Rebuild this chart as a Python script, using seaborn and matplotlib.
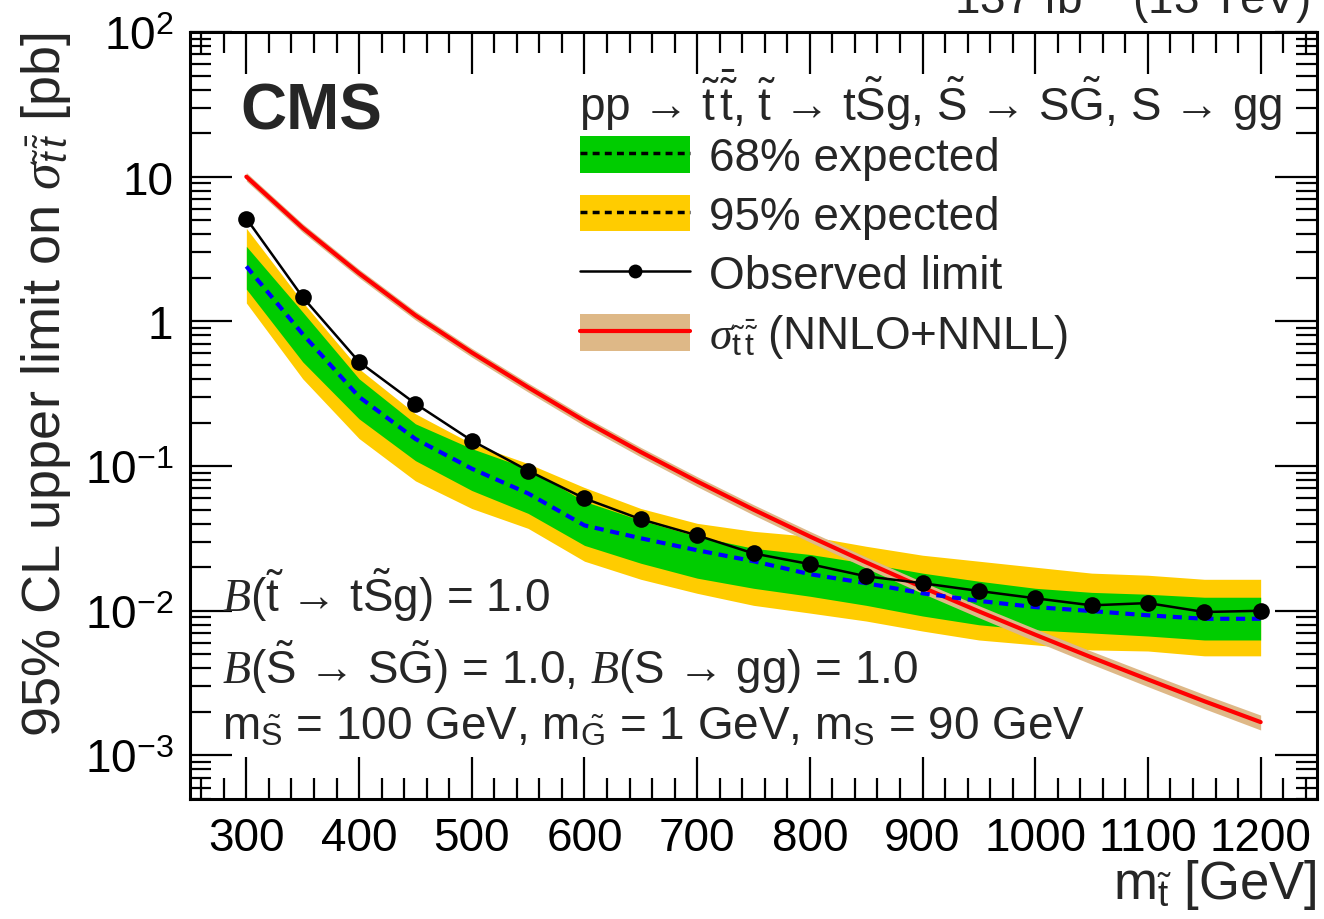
import numpy as np
import pandas as pd
import matplotlib
matplotlib.use("Agg")
import matplotlib.pyplot as plt
import seaborn as sns
from matplotlib.patches import Patch
from matplotlib.lines import Line2D
from matplotlib.ticker import FixedLocator, FuncFormatter, MultipleLocator, LogLocator

# ---------------- data ----------------
mass = [300, 350, 400, 450, 500, 550, 600, 650, 700, 750, 800, 850, 900, 950,
        1000, 1050, 1100, 1150, 1200]
observed = [5.14, 1.47, 0.525, 0.270, 0.150, 0.093, 0.0598, 0.0429, 0.0332, 0.0249,
            0.0210, 0.0173, 0.0155, 0.0137, 0.0122, 0.0109, 0.0113, 0.0098, 0.0100]
expected = [2.40, 0.817, 0.301, 0.154, 0.096, 0.0647, 0.0389, 0.0317, 0.0262, 0.0220,
            0.0179, 0.0155, 0.0132, 0.0117, 0.0106, 0.00995, 0.0093, 0.0088, 0.0088]
exp_p1 = [3.30, 1.16, 0.401, 0.196, 0.132, 0.096, 0.057, 0.0422, 0.0327, 0.0270,
          0.0245, 0.0213, 0.0182, 0.0160, 0.0143, 0.0134, 0.0130, 0.0124, 0.0124]
exp_m1 = [1.67, 0.525, 0.212, 0.109, 0.0678, 0.0471, 0.0283, 0.0213, 0.0168, 0.0143,
          0.0126, 0.0109, 0.0092, 0.0080, 0.00736, 0.00702, 0.00669, 0.00628, 0.00628]
exp_p2 = [4.40, 1.36, 0.470, 0.230, 0.143, 0.104, 0.0711, 0.0509, 0.0402, 0.0354,
          0.0327, 0.0279, 0.0242, 0.0220, 0.0200, 0.0182, 0.0176, 0.0165, 0.0165]
exp_m2 = [1.34, 0.401, 0.155, 0.079, 0.0509, 0.0371, 0.0220, 0.0165, 0.0132, 0.0109,
          0.00964, 0.00849, 0.00724, 0.00628, 0.00581, 0.00536, 0.00527, 0.00488, 0.00488]
xsec = [10.0, 4.43, 2.15, 1.10, 0.609, 0.350, 0.205, 0.125, 0.0783, 0.0500,
        0.0326, 0.0216, 0.0145, 0.0099, 0.00683, 0.00476, 0.00335, 0.00237, 0.00170]
xsec_unc = [0.067, 0.068, 0.068, 0.069, 0.070, 0.072, 0.074, 0.076, 0.079, 0.082,
            0.085, 0.088, 0.091, 0.095, 0.099, 0.103, 0.108, 0.113, 0.118]

xticks = [300, 400, 500, 600, 700, 800, 900, 1000, 1100, 1200]
ytick_vals = [1e-3, 1e-2, 1e-1, 1, 10, 100]
ytick_labels = [r"$10^{-3}$", r"$10^{-2}$", r"$10^{-1}$", "1", "10", r"$10^{2}$"]

df = pd.DataFrame({"mass": mass, "obs": observed, "exp": expected,
                   "p1": exp_p1, "m1": exp_m1, "p2": exp_p2, "m2": exp_m2,
                   "xsec": xsec, "unc": xsec_unc})

# ---------------- style ----------------
sns.set_style("ticks")
plt.rcParams["font.family"] = ["Liberation Sans", "DejaVu Sans"]
plt.rcParams["mathtext.fontset"] = "custom"
plt.rcParams["mathtext.rm"] = "Liberation Sans"
plt.rcParams["mathtext.it"] = "Liberation Serif:italic"
plt.rcParams["mathtext.sf"] = "Liberation Sans:italic"
plt.rcParams["mathtext.bf"] = "Liberation Sans:bold"

GREEN = "#00CC00"
YELLOW = "#FFCC00"
TAN = "#DEB887"
FS = 33

fig = plt.figure(figsize=(13.24, 9.20), dpi=100)
ax = fig.add_axes([190 / 1324, 1 - 800 / 920, (1317 - 190) / 1324, (800 - 33) / 920])

# bands
ax.fill_between(df["mass"], df["m2"], df["p2"], color=YELLOW, lw=0, zorder=1)
ax.fill_between(df["mass"], df["m1"], df["p1"], color=GREEN, lw=0, zorder=2)
# theory band
ax.fill_between(df["mass"], df["xsec"] * (1 - df["unc"]), df["xsec"] * (1 + df["unc"]),
                color=TAN, lw=0, zorder=3)
sns.lineplot(data=df, x="mass", y="xsec", ax=ax, color="red", linewidth=3, zorder=4)
# expected
sns.lineplot(data=df, x="mass", y="exp", ax=ax, color="blue", linewidth=3, zorder=5)
ax.lines[-1].set_dashes([2.2, 1.6])
# observed
sns.lineplot(data=df, x="mass", y="obs", ax=ax, color="black", linewidth=1.8,
             marker="o", markersize=12, markeredgewidth=0, zorder=6)

ax.set_yscale("log")
ax.set_xlim(250, 1250)
ax.set_ylim(5e-4, 100)

ax.xaxis.set_major_locator(FixedLocator(xticks))
ax.xaxis.set_minor_locator(MultipleLocator(20))
ax.yaxis.set_major_locator(FixedLocator(ytick_vals))
ax.yaxis.set_major_formatter(FuncFormatter(
    lambda v, p: ytick_labels[ytick_vals.index(min(ytick_vals, key=lambda t: abs(np.log10(t) - np.log10(v))))]))
ax.yaxis.set_minor_locator(LogLocator(base=10, subs=np.arange(2, 10), numticks=30))
ax.yaxis.set_minor_formatter(FuncFormatter(lambda v, p: ""))

ax.tick_params(which="both", direction="in", top=True, right=True, labelsize=FS,
               width=1.6, colors="black")
ax.tick_params(which="major", length=30, pad=12)
ax.tick_params(which="minor", length=15)
for s in ax.spines.values():
    s.set_linewidth(2.2)
    s.set_color("black")

ax.set_xlabel(r"m$_{\tilde{\mathrm{t}}}$ [GeV]", fontsize=38, ha="right")
ax.xaxis.set_label_coords(1.0, -0.075)
ax.set_ylabel(r"95% CL upper limit on $\sigma_{\tilde{\mathsf{t}}\,\bar{\tilde{\mathsf{t}}}}$ [pb]",
              fontsize=39, ha="right")
ax.yaxis.set_label_coords(-0.104, 1.0)

# texts
ax.text(0.045, 0.935, "CMS", transform=ax.transAxes, fontsize=46, fontweight="bold",
        va="top", ha="left")
fig.text(1310 / 1324, 1 - 14 / 920, r"137 fb$^{-1}$ (13 TeV)", fontsize=FS,
         ha="right", va="baseline")

hdr = (r"pp → $\tilde{\mathrm{t}}\,\bar{\tilde{\mathrm{t}}}$, "
       r"$\tilde{\mathrm{t}}$ → t$\tilde{\mathrm{S}}$g, "
       r"$\tilde{\mathrm{S}}$ → S$\tilde{\mathrm{G}}$, S → gg")
fig.text(1282 / 1324, 1 - 100 / 920, hdr, fontsize=FS, ha="right", va="center")

handles = [
    (Patch(facecolor=GREEN, edgecolor="none"), Line2D([], [], color="black", ls=(0, (2, 1.5)), lw=2.5)),
    (Patch(facecolor=YELLOW, edgecolor="none"), Line2D([], [], color="black", ls=(0, (2, 1.5)), lw=2.5)),
    Line2D([], [], color="black", lw=1.8, marker="o", markersize=10, markeredgewidth=0),
    (Patch(facecolor=TAN, edgecolor="none"), Line2D([], [], color="red", lw=3)),
]
labels = ["68% expected", "95% expected", "Observed limit",
          r"$\sigma_{\tilde{\mathrm{t}}\,\bar{\tilde{\mathrm{t}}}}$ (NNLO+NNLL)"]
leg = ax.legend(handles, labels, loc="upper left",
                bbox_to_anchor=((580 - 190) / (1317 - 190), 1 - (137 - 33) / (800 - 33)),
                frameon=False, fontsize=FS, handlelength=2.4, handleheight=0.85,
                handletextpad=0.42, labelspacing=0.32, borderpad=0, borderaxespad=0)

ax.text(222 / 1324, 1 - 595 / 920, r"$\mathit{B}$($\tilde{\mathrm{t}}$ → t$\tilde{\mathrm{S}}$g) = 1.0",
        transform=fig.transFigure, fontsize=FS, va="center", ha="left")
ax.text(222 / 1324, 1 - 667 / 920,
        r"$\mathit{B}$($\tilde{\mathrm{S}}$ → S$\tilde{\mathrm{G}}$) = 1.0, $\mathit{B}$(S → gg) = 1.0",
        transform=fig.transFigure, fontsize=FS, va="center", ha="left")
ax.text(222 / 1324, 1 - 728 / 920,
        r"m$_{\tilde{\mathrm{S}}}$ = 100 GeV, m$_{\tilde{\mathrm{G}}}$ = 1 GeV, m$_{\mathrm{S}}$ = 90 GeV",
        transform=fig.transFigure, fontsize=FS, va="center", ha="left")

fig.savefig("out.png", dpi=100, facecolor="white")
